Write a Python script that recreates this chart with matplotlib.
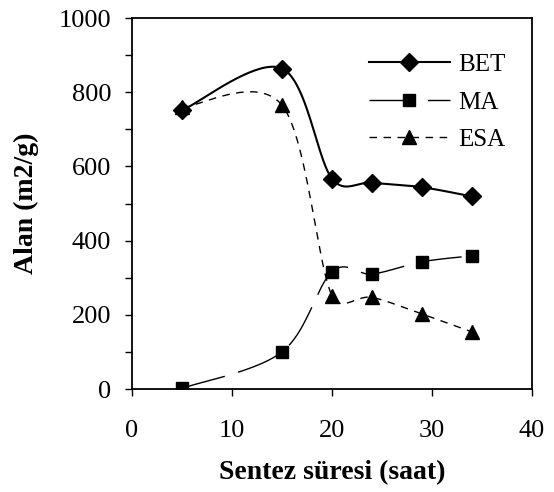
import matplotlib.pyplot as plt
import numpy as np

plt.rcParams['font.family'] = ['Liberation Serif', 'DejaVu Serif']

# sentez suresi (saat)
hours = [5, 15, 20, 24, 29, 34]
bet = [751, 864, 567, 556, 544, 519]
ma = [2, 100, 316, 310, 343, 359]
esa = [759, 765, 251, 247, 202, 154]

XPIX = 400.0  # axis width in px
YPIX = 371.0  # axis height in px


def smooth(x, y, n=40):
    # excel style smoothed line: bezier with 1/6 tangents, limited on short segments
    px = np.asarray(x, float) / 40.0 * XPIX
    py = np.asarray(y, float) / 1000.0 * YPIX
    P = np.column_stack([px, py])
    P = np.vstack([P[0], P, P[-1]])
    out = []
    for i in range(1, len(P) - 2):
        p0, p1, p2, p3 = P[i - 1], P[i], P[i + 1], P[i + 2]
        d12 = np.hypot(*(p2 - p1))
        d02 = np.hypot(*(p2 - p0))
        d13 = np.hypot(*(p3 - p1))
        f1 = 1 / 6.0 if d02 == 0 else min(1 / 6.0, d12 / (2 * d02))
        f2 = 1 / 6.0 if d13 == 0 else min(1 / 6.0, d12 / (2 * d13))
        c1 = p1 + (p2 - p0) * f1
        c2 = p2 - (p3 - p1) * f2
        t = np.linspace(0, 1, n)[:, None]
        seg = ((1 - t) ** 3) * p1 + 3 * ((1 - t) ** 2) * t * c1 + 3 * (1 - t) * t ** 2 * c2 + t ** 3 * p2
        out.append(seg if i == 1 else seg[1:])
    out = np.vstack(out)
    return out[:, 0] / XPIX * 40.0, out[:, 1] / YPIX * 1000.0


fig = plt.figure(figsize=(5.54, 4.92), dpi=100)
ax = fig.add_axes([0.2383, 0.2093, 0.722, 0.754])

series = [
    ('BET', bet, 'D', '-', 1.5, 9),
    ('MA', ma, 's', (0, (32, 10)), 1.0, 8),
    ('ESA', esa, '^', (0, (5.4, 4.7)), 1.0, 10),
]
for name, vals, mk, ls, lw, ms in series:
    sx, sy = smooth(hours, vals)
    ax.plot(sx, sy, color='black', linestyle=ls, linewidth=lw)
    ax.plot(hours, vals, linestyle='none', marker=mk, markersize=ms,
            color='black')
    ax.plot([], [], color='black', linestyle=ls, linewidth=lw, marker=mk,
            markersize=ms, label=name)

ax.set_xlim(0, 40)
ax.set_ylim(0, 1000)
ax.set_xticks([0, 10, 20, 30, 40])
ax.set_yticks(range(0, 1001, 200))
ax.set_yticks(range(100, 1000, 200), minor=True)
ax.tick_params(axis='both', which='both', direction='out', length=5,
               width=1, labelsize=19, colors='black')
ax.tick_params(axis='x', pad=17)
ax.tick_params(axis='y', pad=10)
for sp in ax.spines.values():
    sp.set_linewidth(1.3)

ax.set_xlabel('Sentez süresi (saat)', fontsize=20, fontweight='bold', labelpad=13)
ax.set_ylabel('Alan (m2/g)', fontsize=20, fontweight='bold', labelpad=14)

ax.legend(loc='upper right', bbox_to_anchor=(0.935, 0.904), frameon=False,
          fontsize=18, handlelength=3.24, handletextpad=0.36, labelspacing=0.6,
          borderpad=0, borderaxespad=0)

fig.savefig('out.png', dpi=100)
